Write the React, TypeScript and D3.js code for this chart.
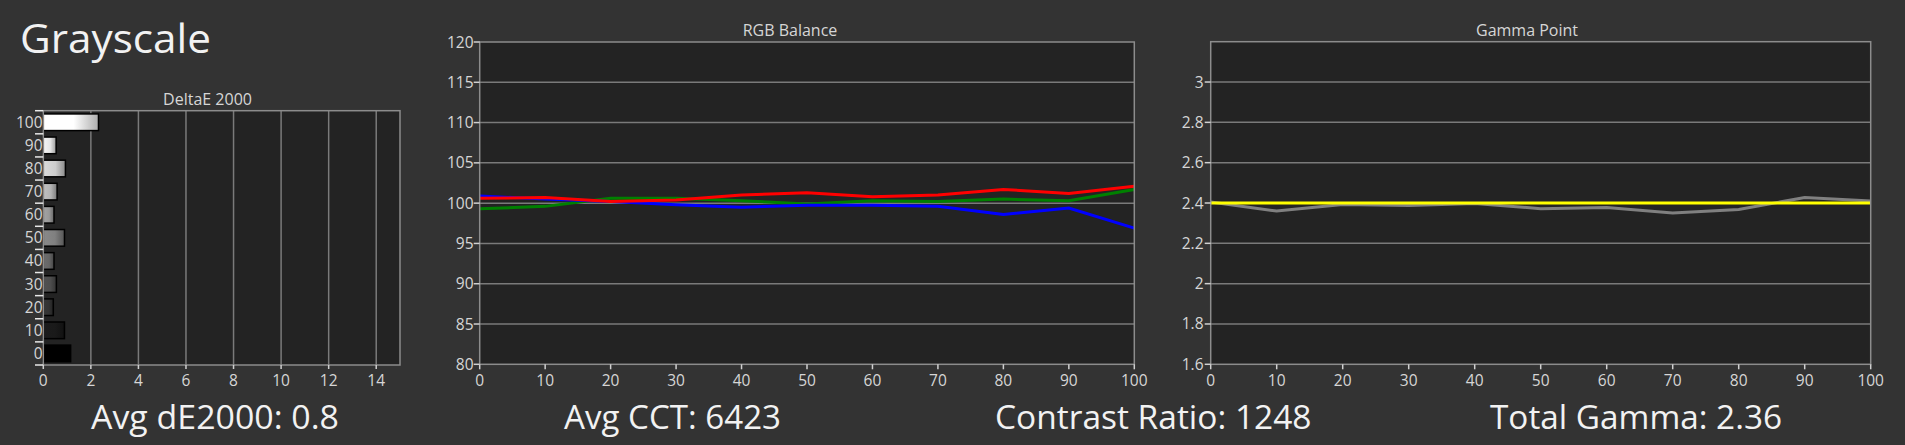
import React from "react";
import * as d3 from "d3";

// ---------- data ----------
const deltaCategories = [100, 90, 80, 70, 60, 50, 40, 30, 20, 10, 0];
const deltaValues = [2.32, 0.54, 0.93, 0.58, 0.45, 0.89, 0.45, 0.55, 0.42, 0.89, 1.15];
const deltaTicks = [0, 2, 4, 6, 8, 10, 12, 14];

const levels = [0, 10, 20, 30, 40, 50, 60, 70, 80, 90, 100];
const redValues = [100.6, 100.7, 100.2, 100.4, 101.0, 101.3, 100.8, 101.0, 101.7, 101.2, 102.1];
const greenValues = [99.3, 99.6, 100.6, 100.6, 100.3, 99.9, 100.3, 100.2, 100.5, 100.3, 101.7];
const blueValues = [100.9, 100.5, 100.2, 99.8, 99.5, 99.75, 99.75, 99.6, 98.6, 99.4, 96.9];
const rgbTicks = [80, 85, 90, 95, 100, 105, 110, 115, 120];

const gammaValues = [2.405, 2.36, 2.393, 2.388, 2.397, 2.372, 2.378, 2.35, 2.368, 2.427, 2.41];
const gammaTarget = 2.4;
const gammaTicks = [1.6, 1.8, 2, 2.2, 2.4, 2.6, 2.8, 3];

const pageTitle = "Grayscale";
const chartTitles = ["DeltaE 2000", "RGB Balance", "Gamma Point"];
const summaryTexts = ["Avg dE2000: 0.8", "Avg CCT: 6423", "Contrast Ratio: 1248", "Total Gamma: 2.36"];

// ---------- styles ----------
const BG = "#333333";
const PLOT_BG = "#232323";
const GRID = "#7a7a7a";
const BORDER = "#8c8c8c";
const TICK_TEXT = "#d6d6d6";
const FONT = "'Open Sans', 'Noto Sans', sans-serif";

const W = 1905;
const H = 445;

const summaryX = [91, 564, 995, 1490];
const summaryW = [248, 217, 316.5, 292];

export default function App() {
  // ---- left: DeltaE bars ----
  const L = { left: 43.3, right: 400, top: 110.7, bottom: 365 };
  const dx = d3.scaleLinear().domain([0, 15]).range([L.left, L.right]);
  const dy = d3.scaleBand<number>().domain(deltaCategories).range([L.top, L.bottom]).padding(0);
  const barH = dy.bandwidth() * 0.72;

  // ---- middle: RGB ----
  const M = { left: 479.7, right: 1134.3, top: 42, bottom: 364.3 };
  const mx = d3.scaleLinear().domain([0, 100]).range([M.left, M.right]);
  const my = d3.scaleLinear().domain([80, 120]).range([M.bottom, M.top]);
  const rgbLine = d3
    .line<number>()
    .x((_, i) => mx(levels[i]))
    .y((v) => my(v));

  // ---- right: gamma ----
  const R = { left: 1210.7, right: 1870.7, top: 41.7, bottom: 364.3 };
  const gx = d3.scaleLinear().domain([0, 100]).range([R.left, R.right]);
  const gy = d3.scaleLinear().domain([1.6, 3.2]).range([R.bottom, R.top]);
  const gLine = d3
    .line<number>()
    .x((_, i) => gx(levels[i]))
    .y((v) => gy(v));

  const xLabelY = 386;
  const tickFs = 15.5;

  const bandEdges = deltaCategories.map((c) => dy(c) as number).concat([L.bottom]);

  return (
    <svg
      width={W}
      height={H}
      style={{ position: "absolute", left: 0, top: 0, background: BG }}
      fontFamily={FONT}
    >
      <defs>
        {deltaCategories.map((c, i) => {
          const base = d3.rgb((c / 100) * 255, (c / 100) * 255, (c / 100) * 255);
          return (
            <linearGradient id={`g${i}`} key={c} x1="0" x2="1" y1="0" y2="0">
              <stop offset="0" stopColor={base.brighter(0.2).formatHex()} />
              <stop offset="0.55" stopColor={base.formatHex()} />
              <stop offset="1" stopColor={base.darker(1.1).formatHex()} />
            </linearGradient>
          );
        })}
      </defs>
      <rect x={0} y={0} width={W} height={H} fill={BG} />

      {/* page title */}
      <text x={20} y={53} fontSize={40} fill="#f2f2f2" textLength={191} lengthAdjust="spacingAndGlyphs">
        {pageTitle}
      </text>

      {/* ===== Left chart ===== */}
      <text x={207.5} y={105.3} fontSize={16} fill={TICK_TEXT} textAnchor="middle">
        {chartTitles[0]}
      </text>
      <rect x={L.left} y={L.top} width={L.right - L.left} height={L.bottom - L.top} fill={PLOT_BG} />
      {deltaTicks.slice(1).map((t) => (
        <line key={t} x1={dx(t)} x2={dx(t)} y1={L.top} y2={L.bottom} stroke={GRID} strokeWidth={1.5} />
      ))}
      {deltaCategories.map((c, i) => {
        const y0 = (dy(c) as number) + (dy.bandwidth() - barH) / 2;
        return (
          <rect
            key={c}
            x={dx(0)}
            y={y0}
            width={dx(deltaValues[i]) - dx(0)}
            height={barH}
            fill={`url(#g${i})`}
            stroke="#000"
            strokeWidth={1.5}
          />
        );
      })}
      <rect
        x={L.left}
        y={L.top}
        width={L.right - L.left}
        height={L.bottom - L.top}
        fill="none"
        stroke={BORDER}
        strokeWidth={1.5}
      />
      {bandEdges.map((y, i) => (
        <line key={i} x1={35} x2={L.left} y1={y} y2={y} stroke="#e8e8e8" strokeWidth={1.5} />
      ))}
      {deltaCategories.map((c) => (
        <text
          key={c}
          x={42.5}
          y={(dy(c) as number) + dy.bandwidth() / 2 + 5.5}
          fontSize={tickFs}
          fill={TICK_TEXT}
          textAnchor="end"
        >
          {c}
        </text>
      ))}
      {deltaTicks.map((t) => (
        <g key={t}>
          <line x1={dx(t)} x2={dx(t)} y1={L.bottom} y2={L.bottom + 4} stroke="#d0d0d0" strokeWidth={1.5} />
          <text x={dx(t)} y={xLabelY} fontSize={tickFs} fill={TICK_TEXT} textAnchor="middle">
            {t}
          </text>
        </g>
      ))}

      {/* ===== Middle chart ===== */}
      <text x={790} y={35.5} fontSize={16} fill={TICK_TEXT} textAnchor="middle">
        {chartTitles[1]}
      </text>
      <rect x={M.left} y={M.top} width={M.right - M.left} height={M.bottom - M.top} fill={PLOT_BG} />
      {rgbTicks.slice(1, -1).map((t) => (
        <line key={t} x1={M.left} x2={M.right} y1={my(t)} y2={my(t)} stroke={GRID} strokeWidth={1.5} />
      ))}
      <path d={rgbLine(greenValues) || ""} fill="none" stroke="#008000" strokeWidth={3} />
      <path d={rgbLine(blueValues) || ""} fill="none" stroke="#0000ff" strokeWidth={3} />
      <path d={rgbLine(redValues) || ""} fill="none" stroke="#ff0000" strokeWidth={3} />
      <rect
        x={M.left}
        y={M.top}
        width={M.right - M.left}
        height={M.bottom - M.top}
        fill="none"
        stroke={BORDER}
        strokeWidth={1.5}
      />
      {rgbTicks.map((t) => (
        <g key={t}>
          <line x1={M.left - 6} x2={M.left} y1={my(t)} y2={my(t)} stroke="#d0d0d0" strokeWidth={1.5} />
          <text x={473.5} y={my(t) + 5.5} fontSize={tickFs} fill={TICK_TEXT} textAnchor="end">
            {t}
          </text>
        </g>
      ))}
      {levels.map((t) => (
        <g key={t}>
          <line x1={mx(t)} x2={mx(t)} y1={M.bottom} y2={M.bottom + 5} stroke="#d0d0d0" strokeWidth={1.5} />
          <text x={mx(t)} y={xLabelY} fontSize={tickFs} fill={TICK_TEXT} textAnchor="middle">
            {t}
          </text>
        </g>
      ))}

      {/* ===== Right chart ===== */}
      <text x={1527} y={35.5} fontSize={16} fill={TICK_TEXT} textAnchor="middle">
        {chartTitles[2]}
      </text>
      <rect x={R.left} y={R.top} width={R.right - R.left} height={R.bottom - R.top} fill={PLOT_BG} />
      {gammaTicks.slice(1).map((t) => (
        <line key={t} x1={R.left} x2={R.right} y1={gy(t)} y2={gy(t)} stroke={GRID} strokeWidth={1.5} />
      ))}
      <path d={gLine(gammaValues) || ""} fill="none" stroke="#808080" strokeWidth={3} />
      <line
        x1={gx(0)}
        x2={gx(100)}
        y1={gy(gammaTarget)}
        y2={gy(gammaTarget)}
        stroke="#ffff00"
        strokeWidth={3}
      />
      <rect
        x={R.left}
        y={R.top}
        width={R.right - R.left}
        height={R.bottom - R.top}
        fill="none"
        stroke={BORDER}
        strokeWidth={1.5}
      />
      {gammaTicks.map((t) => (
        <g key={t}>
          <line x1={R.left - 6} x2={R.left} y1={gy(t)} y2={gy(t)} stroke="#d0d0d0" strokeWidth={1.5} />
          <text x={1203.5} y={gy(t) + 5.5} fontSize={tickFs} fill={TICK_TEXT} textAnchor="end">
            {d3.format("~g")(t)}
          </text>
        </g>
      ))}
      {levels.map((t) => (
        <g key={t}>
          <line x1={gx(t)} x2={gx(t)} y1={R.bottom} y2={R.bottom + 5} stroke="#d0d0d0" strokeWidth={1.5} />
          <text x={gx(t)} y={xLabelY} fontSize={tickFs} fill={TICK_TEXT} textAnchor="middle">
            {t}
          </text>
        </g>
      ))}

      {/* summary texts */}
      {summaryTexts.map((s, i) => (
        <text
          key={s}
          x={summaryX[i]}
          y={429}
          fontSize={32}
          fill="#f2f2f2"
          textLength={summaryW[i]}
          lengthAdjust="spacingAndGlyphs"
        >
          {s}
        </text>
      ))}
    </svg>
  );
}
